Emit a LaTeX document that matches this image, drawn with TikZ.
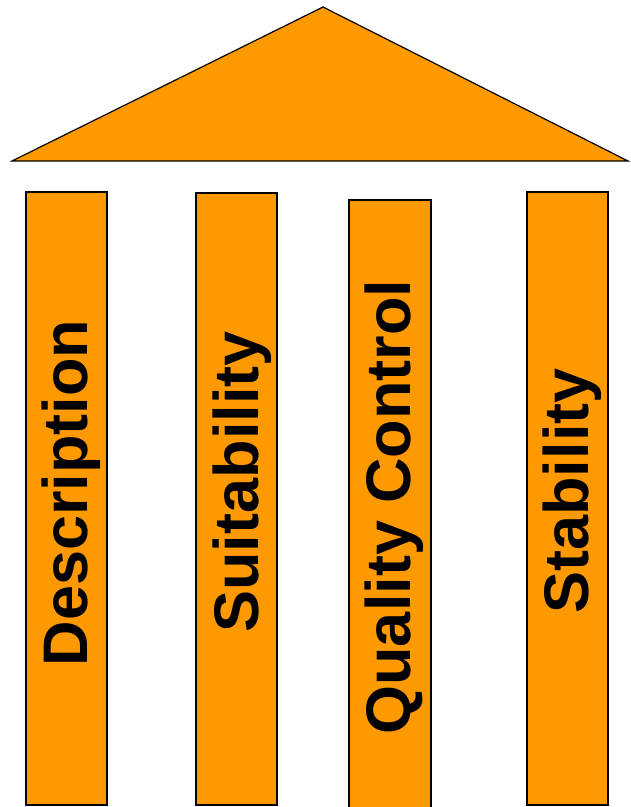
\documentclass[tikz,border=0pt]{standalone}
\usepackage{fontspec}
\setmainfont{Liberation Sans}
\definecolor{pillarorange}{HTML}{FF9900}
\tikzset{
  part/.style={fill=pillarorange, draw=black, line width=1.2pt, line join=miter},
  pillartext/.style={rotate=90, font=\bfseries\fontsize{63}{63}\selectfont, inner sep=0pt, anchor=center}
}
\begin{document}
\begin{tikzpicture}[x=1pt, y=-1pt]
  \useasboundingbox (0,0) rectangle (631,807);
  \clip (0,0) rectangle (631,807);
  % roof
  \draw[part] (12,161) -- (323,7) -- (628,161) -- cycle;
  % pillars
  \draw[part] (26,192) rectangle (107,805);
  \draw[part] (196,193) rectangle (277,805);
  \draw[part] (349,200) rectangle (431,815);
  \draw[part] (527,192) rectangle (608,805);
  % labels
  \node[pillartext] (desc) at (71,493) {Description};
  \node[pillartext] (suit) at (242,482) {Suitability};
  \node[pillartext] (qc) at (394,507) {Quality Control};
  \node[pillartext] (stab) at (572,491) {Stability};
\end{tikzpicture}
\end{document}
